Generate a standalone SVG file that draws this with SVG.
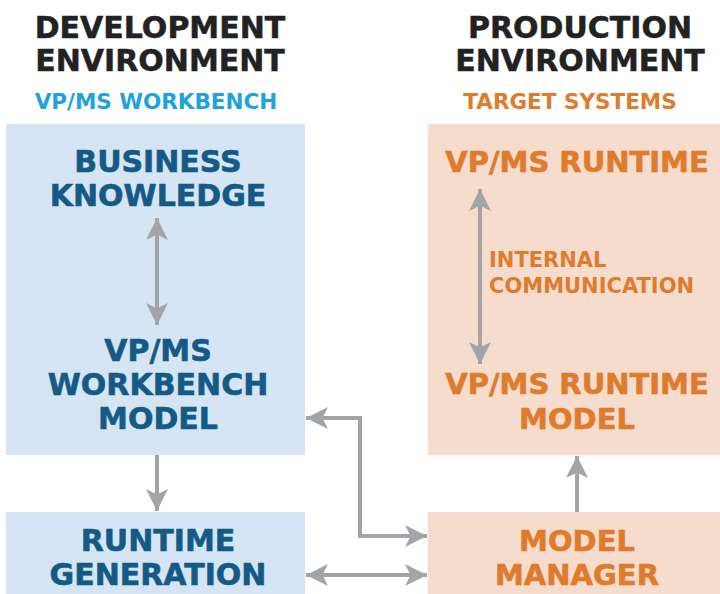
<svg xmlns="http://www.w3.org/2000/svg" width="720" height="594" viewBox="0 0 720 594">
<defs>
<style>
text{font-family:"DejaVu Sans","Liberation Sans",sans-serif;font-weight:bold;text-anchor:middle}
.h{font-size:30px;fill:#222222;stroke:#222222;stroke-width:0.5}
.sub{font-size:21.5px}
.b{fill:#d5e5f4}
.o{fill:#f5dccd}
.bt{font-size:30px;fill:#145a87;stroke:#145a87;stroke-width:0.6}
.ot{font-size:29px;fill:#e07b2b;stroke:#e07b2b;stroke-width:0.6}
.ic{font-size:21px;fill:#e07b2b;text-anchor:start}
.c{fill:none;stroke:#a3a4a8;stroke-width:4}
</style>
<marker id="ah" viewBox="0 0 10 10" refX="10" refY="5" markerWidth="5.5" markerHeight="5.5" markerUnits="strokeWidth" orient="auto-start-reverse">
<path d="M0,0 L10,5 L0,10 L2.5,5 Z" fill="#a3a4a8"/>
</marker>
</defs>
<rect width="720" height="594" fill="#ffffff"/>
<g id="header-dev">
<text class="h" x="160" y="38">DEVELOPMENT</text>
<text class="h" x="160" y="71">ENVIRONMENT</text>
<text class="sub" x="156" y="109" fill="#1ea3dc">VP/MS WORKBENCH</text>
</g>
<g id="header-prod">
<text class="h" x="580" y="38">PRODUCTION</text>
<text class="h" x="580" y="71">ENVIRONMENT</text>
<text class="sub" x="570" y="109" fill="#e07b2b">TARGET SYSTEMS</text>
</g>
<g id="workbench">
<rect class="b" x="6" y="124" width="299" height="331"/>
<g id="business-knowledge">
<text class="bt" x="158" y="172">BUSINESS</text>
<text class="bt" x="158" y="206">KNOWLEDGE</text>
</g>
<g id="workbench-model">
<text class="bt" x="158" y="361">VP/MS</text>
<text class="bt" x="158" y="395">WORKBENCH</text>
<text class="bt" x="158" y="429">MODEL</text>
</g>
</g>
<g id="runtime-generation">
<rect class="b" x="6" y="512" width="299" height="82"/>
<text class="bt" x="158" y="551">RUNTIME</text>
<text class="bt" x="158" y="585">GENERATION</text>
</g>
<g id="target">
<rect class="o" x="428" y="124" width="292" height="331"/>
<g id="vpms-runtime">
<text class="ot" x="577" y="172">VP/MS RUNTIME</text>
</g>
<g id="runtime-model">
<text class="ot" x="577" y="394">VP/MS RUNTIME</text>
<text class="ot" x="577" y="429">MODEL</text>
</g>
</g>
<g id="model-manager">
<rect class="o" x="428" y="512" width="292" height="82"/>
<text class="ot" x="577" y="551">MODEL</text>
<text class="ot" x="577" y="585">MANAGER</text>
</g>
<g id="connectors">
<line class="c" x1="157" y1="218" x2="157" y2="325" marker-start="url(#ah)" marker-end="url(#ah)"/>
<line class="c" x1="480" y1="189" x2="480" y2="364" marker-start="url(#ah)" marker-end="url(#ah)"/>
<text class="ic" x="489" y="267">INTERNAL</text>
<text class="ic" x="489" y="293">COMMUNICATION</text>
<line class="c" x1="157" y1="455" x2="157" y2="511" marker-end="url(#ah)"/>
<line class="c" x1="577" y1="512" x2="577" y2="456" marker-end="url(#ah)"/>
<polyline class="c" points="306,418 360,418 360,536 427,536" marker-start="url(#ah)" marker-end="url(#ah)"/>
<line class="c" x1="306" y1="575" x2="427" y2="575" marker-start="url(#ah)" marker-end="url(#ah)"/>
</g>
</svg>
